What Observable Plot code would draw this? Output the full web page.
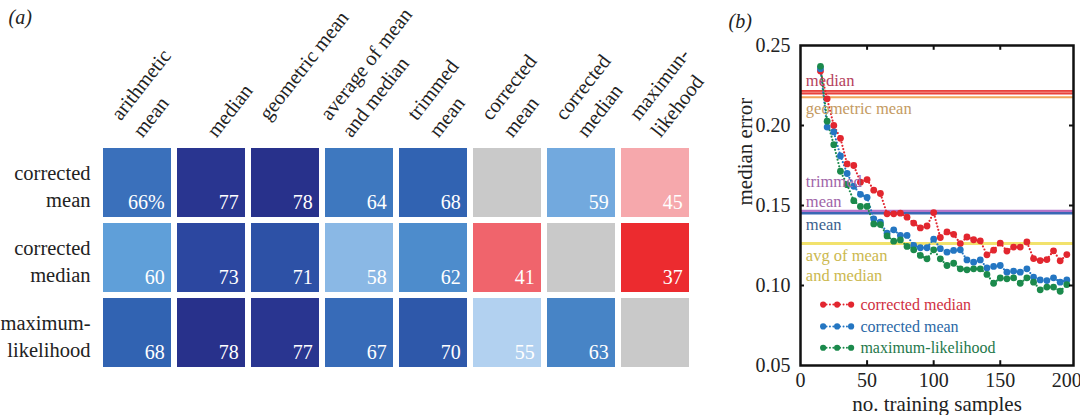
<!DOCTYPE html>
<html>
<head>
<meta charset="utf-8">
<script src="https://cdn.jsdelivr.net/npm/d3@7"></script>
<script src="https://cdn.jsdelivr.net/npm/@observablehq/plot@0.6"></script>
<style>
  html, body { margin: 0; padding: 0; background: #fff; }
  #wrap { position: relative; width: 1080px; height: 415px; overflow: hidden; background: #fff; }
  #wrap svg { position: absolute; top: 0; }
</style>
</head>
<body>
<div id="wrap"></div>
<script>
// ---------- Panel (a): heat map data ----------
const methods = ["arithmetic mean", "median", "geometric mean", "average of mean and median",
  "trimmed mean", "corrected mean", "corrected median", "maximum-likelihood"];
const methodHeaders = ["arithmetic\nmean", "median", "geometric mean\n", "average of mean\nand median",
  "trimmed\nmean", "corrected\nmean", "corrected\nmedian", "maximun-\nlikehood"];
const estimators = ["corrected mean", "corrected median", "maximum-likelihood"];
const estimatorLabels = ["corrected\nmean", "corrected\nmedian", "maximum-\nlikelihood"];
const winCorrectedMean   = [66, 77, 78, 64, 68, null, 59, 45];
const winCorrectedMedian = [60, 73, 71, 58, 62, 41, null, 37];
const winMaxLikelihood   = [68, 78, 77, 67, 70, 55, 63, null];

// ---------- Panel (b): median error vs training samples ----------
const samples = [15, 20, 25, 30, 35, 40, 45, 50, 55, 60, 65, 70, 75, 80, 85, 90, 95, 100, 105, 110,
  115, 120, 125, 130, 135, 140, 145, 150, 155, 160, 165, 170, 175, 180, 185, 190, 195, 200];
const errCorrectedMedian = [0.234, 0.2167, 0.200, 0.192, 0.176, 0.175, 0.1646, 0.1662, 0.1596, 0.1575,
  0.1448, 0.1448, 0.1452, 0.1427, 0.139, 0.136, 0.1372, 0.1456, 0.130, 0.1335,
  0.132, 0.1262, 0.1303, 0.1286, 0.1279, 0.1192, 0.1221, 0.1265, 0.1215, 0.124,
  0.124, 0.1272, 0.1168, 0.1156, 0.1162, 0.1217, 0.1154, 0.1193];
const errCorrectedMean = [0.2355, 0.199, 0.196, 0.181, 0.170, 0.162, 0.157, 0.155, 0.1417, 0.1396,
  0.1327, 0.1348, 0.1313, 0.1313, 0.125, 0.1236, 0.1236, 0.129, 0.123, 0.1208,
  0.1219, 0.1223, 0.116, 0.1146, 0.116, 0.111, 0.1119, 0.1125, 0.1083, 0.109,
  0.1083, 0.1104, 0.1052, 0.1035, 0.1031, 0.1048, 0.1021, 0.1035];
const errMaxLikelihood = [0.237, 0.2027, 0.188, 0.1714, 0.163, 0.153, 0.1494, 0.1494, 0.1385, 0.1381,
  0.131, 0.1277, 0.1285, 0.1244, 0.1223, 0.1188, 0.1167, 0.1223, 0.1167, 0.1125,
  0.1139, 0.1104, 0.1098, 0.1104, 0.1104, 0.1069, 0.1014, 0.1047, 0.1042, 0.1048,
  0.1014, 0.1048, 0.1021, 0.0973, 0.099, 0.099, 0.0964, 0.1006];
const seriesNames = ["corrected median", "corrected mean", "maximum-likelihood"];
const baselineNames = ["median", "geometric mean", "trimmed mean", "mean", "avg of mean and median"];
const baselineErrors = [0.2208, 0.2176, 0.1465, 0.1451, 0.1262];
const xTicks = [0, 50, 100, 150, 200];
const yTicks = [0.05, 0.10, 0.15, 0.20, 0.25];

// ---------- build tables ----------
const winRows = [winCorrectedMean, winCorrectedMedian, winMaxLikelihood];
const cells = [];
estimators.forEach((e, i) => methods.forEach((m, j) => {
  const v = winRows[i][j];
  cells.push({estimator: e, method: m, value: v, label: v == null ? "" : (i === 0 && j === 0 ? v + "%" : String(v))});
}));
const valued = cells.filter(d => d.value != null);

const serif = "'Liberation Serif', 'DejaVu Serif', 'Times New Roman', serif";
const wrap = document.getElementById("wrap");

// ---------- heat map ----------
const W1 = 720, H1 = 415, mL = 99, mR = 28, mT = 147, mB = 47;
const pad = 0.085;
const bw = (W1 - mL - mR) / (methods.length - pad) * (1 - pad);
const bh = (H1 - mT - mB) / (estimators.length - pad) * (1 - pad);

const heat = Plot.plot({
  width: W1, height: H1,
  marginLeft: mL, marginRight: mR, marginTop: mT, marginBottom: mB,
  x: {domain: methods, paddingInner: pad, paddingOuter: 0, axis: null},
  y: {domain: estimators, paddingInner: pad, paddingOuter: 0, axis: null},
  color: {
    type: "linear", interpolate: "rgb",
    domain: [37, 41, 45, 55, 58, 59, 60, 62, 63, 64, 66, 67, 68, 70, 71, 73, 77, 78],
    range: ["#ec2b2f", "#f0646c", "#f6a8ac", "#b2d1f0", "#8ab8e5", "#72a9de", "#5f9fd9", "#4d8ccc",
            "#4784c6", "#3e78bf", "#3a70bb", "#376bb8", "#3163b2", "#2e58aa", "#2d51a6", "#2c47a0",
            "#293590", "#28318b"]
  },
  style: {fontFamily: serif, fontSize: "20.5px", color: "#222", background: "white"},
  marks: [
    Plot.cell(cells, {x: "method", y: "estimator", fill: "#c9c9c9"}),
    Plot.cell(valued, {x: "method", y: "estimator", fill: "value"}),
    Plot.text(valued, {x: "method", y: "estimator", text: "label", fill: "white",
      textAnchor: "end", lineAnchor: "bottom", dx: bw / 2 - 7, dy: bh / 2 - 9, fontSize: 20}),
    // row labels
    Plot.text(estimators, {y: d => d, text: (d, i) => estimatorLabels[i], frameAnchor: "left",
      lineAnchor: "middle", dx: -9, dy: 2, textAnchor: "end", lineHeight: 1.3, fill: "#222", fontSize: 20.5}),
    // column headers
    Plot.text(methods.filter((d, i) => i !== 3), {x: d => d, text: d => methodHeaders[methods.indexOf(d)],
      frameAnchor: "top", dx: 5, dy: -9, rotate: -52, textAnchor: "start", lineAnchor: "bottom",
      lineHeight: 1.35, fill: "#222", fontSize: 20.5}),
    Plot.text(methods.filter((d, i) => i === 3), {x: d => d, text: d => methodHeaders[methods.indexOf(d)],
      frameAnchor: "top", dx: -8, dy: -9, rotate: -52, textAnchor: "start", lineAnchor: "bottom",
      lineHeight: 1.35, fill: "#222", fontSize: 20.5}),
    Plot.text(["(a)"], {text: d => d, frameAnchor: "top-left", lineAnchor: "middle", dx: 8 - mL, dy: 17 - mT,
      textAnchor: "start", fontStyle: "italic", fontSize: 20, fill: "#222"})
  ]
});
heat.style.left = "0px";
wrap.appendChild(heat);

// ---------- line chart ----------
const errs = [errCorrectedMedian, errCorrectedMean, errMaxLikelihood];
const points = [];
seriesNames.forEach((s, k) => samples.forEach((n, i) => points.push({series: s, n, err: errs[k][i]})));

const baseStyle = {
  "median": {stroke: "#e8423d", width: 4.5, text: "median", fill: "#b5415c", ly: 0.2288},
  "geometric mean": {stroke: "#f0a45a", width: 2, text: "geometric mean", fill: "#c49a62", ly: 0.2112},
  "trimmed mean": {stroke: "#b475c9", width: 2.5, text: "trimmed\nmean", fill: "#a064a8", ly: 0.1594},
  "mean": {stroke: "#3a68b4", width: 2.5, text: "mean", fill: "#3c5f8e", ly: 0.1385},
  "avg of mean and median": {stroke: "#f2e26c", width: 3, text: "avg of mean\nand median", fill: "#cbb84e", ly: 0.1128}
};
const seriesColors = ["#e2262f", "#2476c2", "#1b8a4c"];
const legendTextColors = ["#d0303f", "#2a68a6", "#24784a"];
const legendY = [0.0881, 0.0744, 0.0611];
const legendX = [17, 27.5, 38];

const refMarks = [];
baselineNames.forEach((name, i) => {
  const st = baseStyle[name];
  refMarks.push(Plot.ruleY([baselineErrors[i]], {stroke: st.stroke, strokeWidth: st.width}));
  if (name === "median") refMarks.push(Plot.ruleY([baselineErrors[i]], {stroke: "#f49088", strokeWidth: 1}));
});
const refLabels = baselineNames.map((name) => {
  const st = baseStyle[name];
  return Plot.text([{x: 4, y: st.ly, label: st.text}], {x: "x", y: "y", text: "label", textAnchor: "start",
    lineAnchor: "middle", fill: st.fill, fontSize: 16.5, lineHeight: 1.2});
});

const legendMarks = [];
seriesNames.forEach((s, k) => {
  const pts = legendX.map(x => ({x, y: legendY[k], s}));
  legendMarks.push(Plot.line(pts, {x: "x", y: "y", stroke: seriesColors[k], strokeWidth: 2,
    strokeDasharray: "0 3.4", strokeLinecap: "round"}));
  legendMarks.push(Plot.dot(pts, {x: "x", y: "y", r: 3.1, fill: seriesColors[k]}));
  legendMarks.push(Plot.text([{x: 45, y: legendY[k], label: s}], {x: "x", y: "y", text: "label",
    textAnchor: "start", fill: legendTextColors[k], fontSize: 16}));
});

const tickLen = 3;
const chart = Plot.plot({
  width: 360, height: 415,
  marginLeft: 80, marginRight: 7, marginTop: 45, marginBottom: 50,
  x: {domain: [0, 205], axis: null},
  y: {domain: [0.05, 0.25], axis: null},
  color: {domain: seriesNames, range: seriesColors},
  style: {fontFamily: serif, fontSize: "20px", color: "#222", background: "white"},
  marks: [
    ...refMarks,
    Plot.line(points, {x: "n", y: "err", z: "series", stroke: "series", strokeWidth: 2.2,
      strokeDasharray: "0 3.4", strokeLinecap: "round"}),
    Plot.dot(points, {x: "n", y: "err", fill: "series", r: 3.4}),
    ...refLabels,
    ...legendMarks,
    // inward ticks
    Plot.ruleY(yTicks.slice(1, -1), {y: d => d, x1: 0, x2: tickLen, stroke: "#111", strokeWidth: 2}),
    Plot.ruleY(yTicks.slice(1, -1), {y: d => d, x1: 205 - tickLen, x2: 205, stroke: "#111", strokeWidth: 2}),
    Plot.ruleX(xTicks.slice(1, -1), {x: d => d, y1: 0.25, y2: 0.247, stroke: "#111", strokeWidth: 2}),
    Plot.ruleX(xTicks.slice(1, -1), {x: d => d, y1: 0.05, y2: 0.053, stroke: "#111", strokeWidth: 2}),
    Plot.frame({stroke: "#111", strokeWidth: 2.5}),
    Plot.axisX({ticks: xTicks, tickSize: 0, tickPadding: 7, fontSize: 20, label: null, fill: "#222"}),
    Plot.axisY({ticks: yTicks, tickSize: 0, tickPadding: 10, fontSize: 20, label: null,
      tickFormat: d3.format(".2f"), fill: "#222"}),
    Plot.text(["median error"], {text: d => d, frameAnchor: "left", lineAnchor: "middle", dx: -55, rotate: -90,
      fontSize: 21, fill: "#222"}),
    Plot.text(["no. training samples"], {text: d => d, frameAnchor: "bottom", lineAnchor: "middle", dy: 39,
      fontSize: 21, fill: "#222"}),
    Plot.text(["(b)"], {text: d => d, frameAnchor: "top-left", lineAnchor: "middle", dx: -72, dy: -24,
      textAnchor: "start", fontStyle: "italic", fontSize: 20, fill: "#222"})
  ]
});
chart.style.left = "720px";
wrap.appendChild(chart);
</script>
</body>
</html>
